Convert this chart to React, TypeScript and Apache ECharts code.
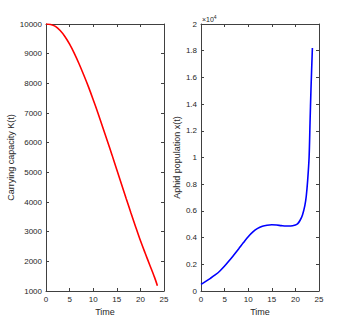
import React, { useEffect, useRef } from "react";
import * as echarts from "echarts";

const timeK = [0, 1, 2, 3, 4, 5, 6, 7, 8, 9, 10, 11, 12, 13, 14, 15, 16, 17, 18, 19, 20, 21, 22, 23, 23.6];
const capacityK = [10000, 9985, 9920, 9780, 9580, 9320, 9010, 8660, 8280, 7880, 7450, 7000, 6530, 6060, 5580, 5090, 4600, 4110, 3630, 3160, 2700, 2280, 1870, 1460, 1180];

const timeX = [0, 1, 2, 3, 4, 5, 6, 7, 8, 9, 10, 11, 12, 13, 14, 15, 16, 17, 18, 19, 20, 20.5, 21, 21.5, 22, 22.3, 22.6, 22.9, 23.1, 23.3, 23.6];
const aphidX = [500, 720, 950, 1200, 1500, 1870, 2280, 2720, 3170, 3630, 4070, 4430, 4690, 4850, 4930, 4960, 4940, 4900, 4870, 4870, 4950, 5050, 5300, 5700, 6400, 7100, 8300, 10000, 12600, 15100, 18200];

const xTicks = { min: 0, max: 25, interval: 5 };
const kTicks = { min: 1000, max: 10000, interval: 1000 };
const aTicks = { min: 0, max: 20000, interval: 2000 };

const FONT = "Liberation Sans";
const AX = "#404040";

function axisBase(gridIndex: number, pos: string, show: boolean, extra: any) {
  return {
    type: "value",
    gridIndex,
    position: pos,
    ...extra,
    axisLine: { show: true, onZero: false, lineStyle: { color: AX, width: 1 } },
    axisTick: { show: true, inside: true, length: 3, lineStyle: { color: AX } },
    splitLine: { show: false },
    axisLabel: {
      show,
      color: "#262626",
      fontFamily: FONT,
      fontSize: 8,
      margin: 4,
      formatter: (v: number) => String(v),
    },
  };
}

export default function App() {
  const ref = useRef<HTMLDivElement>(null);
  useEffect(() => {
    if (!ref.current) return;
    const chart = echarts.init(ref.current, null, { renderer: "svg" });
    const grids = [
      { left: 46, top: 24, width: 118, height: 267 },
      { left: 201, top: 24, width: 118, height: 267 },
    ];
    const nameStyle = { fontFamily: FONT, fontSize: 9, color: "#262626" };
    const xAxis: any[] = [
      { ...axisBase(0, "bottom", true, xTicks), name: "Time", nameLocation: "middle", nameGap: 14, nameTextStyle: nameStyle },
      axisBase(0, "top", false, xTicks),
      { ...axisBase(1, "bottom", true, xTicks), name: "Time", nameLocation: "middle", nameGap: 14, nameTextStyle: nameStyle },
      axisBase(1, "top", false, xTicks),
    ];
    const yAxis: any[] = [
      { ...axisBase(0, "left", true, kTicks), name: "Carrying capacity K(t)", nameLocation: "middle", nameGap: 23, nameTextStyle: nameStyle },
      axisBase(0, "right", false, kTicks),
      {
        ...axisBase(1, "left", true, aTicks),
        name: "Aphid population x(t)",
        nameLocation: "middle",
        nameGap: 13,
        nameTextStyle: nameStyle,
      },
      axisBase(1, "right", false, aTicks),
    ];
    yAxis[2].axisLabel.formatter = (v: number) => String(Math.round(v / 1000) / 10);
    chart.setOption({
      animation: false,
      backgroundColor: "#ffffff",
      grid: grids,
      xAxis,
      yAxis,
      graphic: [
        {
          type: "text",
          left: 202,
          top: 14,
          style: {
            text: "{a|×10}{b|4}",
            rich: {
              a: { fontFamily: FONT, fontSize: 7, fill: "#262626", verticalAlign: "bottom" },
              b: { fontFamily: FONT, fontSize: 5, fill: "#262626", verticalAlign: "top", padding: [0, 0, 4, 0] },
            },
          },
        },
      ],
      series: [
        {
          type: "line",
          xAxisIndex: 0,
          yAxisIndex: 0,
          data: timeK.map((t, i) => [t, capacityK[i]]),
          smooth: 0.3,
          showSymbol: false,
          lineStyle: { color: "#ff0000", width: 1.6 },
        },
        {
          type: "line",
          xAxisIndex: 2,
          yAxisIndex: 2,
          data: timeX.map((t, i) => [t, aphidX[i]]),
          smooth: 0.3,
          showSymbol: false,
          lineStyle: { color: "#0000ff", width: 1.6 },
        },
      ],
    });
    return () => chart.dispose();
  }, []);
  return (
    <div
      ref={ref}
      style={{ position: "absolute", left: 0, top: 0, width: 353, height: 327 }}
    />
  );
}
